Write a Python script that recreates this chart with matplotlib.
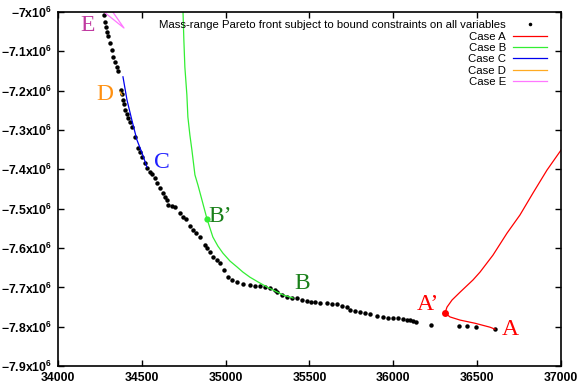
import numpy as np
import matplotlib
matplotlib.use("Agg")
import matplotlib.pyplot as plt
from matplotlib.ticker import FuncFormatter

plt.rcParams['font.family'] = ['Liberation Sans', 'DejaVu Sans']
plt.rcParams['mathtext.fontset'] = 'custom'
plt.rcParams['mathtext.rm'] = 'Liberation Sans'
plt.rcParams['mathtext.bf'] = 'Liberation Sans:bold'

# mass-range pareto front (x, y in units of 1e6)
pareto_x = [34274, 34280, 34286, 34292, 34298, 34310, 34322, 34328, 34340, 34352,
            34358, 34376, 34382, 34388, 34394, 34400, 34412, 34417, 34429, 34441,
            34459, 34477, 34489, 34501, 34519, 34531, 34549, 34561, 34579, 34590,
            34608, 34626, 34638, 34650, 34656, 34680, 34698, 34728, 34746, 34763,
            34787, 34805, 34823, 34847, 34877, 34889, 34907, 34924, 34948, 34966,
            34990, 35014, 35038, 35068, 35103, 35145, 35175, 35205, 35235, 35264,
            35294, 35306, 35336, 35366, 35396, 35425, 35455, 35485, 35509, 35533,
            35563, 35604, 35634, 35664, 35694, 35724, 35741, 35771, 35801, 35831,
            35861, 35903, 35938, 35968, 35998, 36028, 36058, 36081, 36099, 36117,
            36135, 36225, 36392, 36439, 36493, 36606]
pareto_y = [-7.008, -7.025, -7.038, -7.051, -7.061, -7.079, -7.097, -7.114, -7.127, -7.140,
            -7.150, -7.198, -7.208, -7.224, -7.234, -7.249, -7.259, -7.270, -7.280, -7.292,
            -7.318, -7.346, -7.356, -7.369, -7.384, -7.397, -7.407, -7.412, -7.422, -7.435,
            -7.447, -7.460, -7.470, -7.478, -7.491, -7.493, -7.496, -7.511, -7.521, -7.526,
            -7.544, -7.554, -7.562, -7.572, -7.592, -7.600, -7.610, -7.623, -7.630, -7.638,
            -7.656, -7.674, -7.681, -7.686, -7.691, -7.694, -7.697, -7.697, -7.699, -7.702,
            -7.707, -7.712, -7.719, -7.725, -7.727, -7.727, -7.732, -7.735, -7.737, -7.737,
            -7.740, -7.740, -7.742, -7.742, -7.747, -7.750, -7.758, -7.760, -7.763, -7.765,
            -7.768, -7.773, -7.775, -7.778, -7.778, -7.778, -7.780, -7.783, -7.783, -7.786,
            -7.788, -7.796, -7.798, -7.798, -7.801, -7.806]

case_a_x = [37000, 36916, 36833, 36755, 36678, 36594, 36517, 36475, 36398, 36350,
            36320, 36308, 36338, 36398, 36487, 36576, 36606]
case_a_y = [-7.351, -7.402, -7.460, -7.516, -7.562, -7.618, -7.661, -7.681, -7.712, -7.732,
            -7.750, -7.765, -7.775, -7.783, -7.791, -7.801, -7.806]

case_b_x = [34743, 34746, 34751, 34757, 34769, 34775, 34787, 34799, 34817, 34835,
            34859, 34889, 34924, 34954, 34984, 35026, 35068, 35103, 35145, 35193,
            35247, 35294, 35342, 35402]
case_b_y = [-6.980, -7.000, -7.071, -7.140, -7.211, -7.267, -7.313, -7.351, -7.414, -7.440,
            -7.478, -7.526, -7.572, -7.595, -7.613, -7.633, -7.648, -7.661, -7.674, -7.686,
            -7.699, -7.709, -7.719, -7.727]

case_c_x = [34388, 34412, 34441, 34471, 34501, 34531]
case_c_y = [-7.165, -7.224, -7.275, -7.325, -7.358, -7.394]

case_d_x = [34370, 34382]
case_d_y = [-7.203, -7.211]

case_e_x = [34322, 34394, 34280]
case_e_y = [-6.997, -7.041, -7.002]

a_prime = (36308, -7.765)
b_prime = (34889, -7.526)

fig = plt.figure(figsize=(5.79, 3.83), dpi=100)
ax = fig.add_axes([0.100, 0.044, 0.869, 0.925])

M = 1e6
ax.plot(pareto_x, np.array(pareto_y) * M, 'ko', ms=3.2, mew=0, ls='none',
        label='Mass-range Pareto front subject to bound constraints on all variables')
ax.plot(case_a_x, np.array(case_a_y) * M, color='#ff0000', lw=0.9, label='Case A')
ax.plot(case_b_x, np.array(case_b_y) * M, color='#33ee33', lw=0.9, label='Case B')
ax.plot(case_c_x, np.array(case_c_y) * M, color='#0000ee', lw=0.9, label='Case C')
ax.plot(case_d_x, np.array(case_d_y) * M, color='#ffaa22', lw=0.9, label='Case D')
ax.plot(case_e_x, np.array(case_e_y) * M, color='#ff77ff', lw=0.9, label='Case E')
ax.plot([a_prime[0]], [a_prime[1] * M], 'o', color='#ff0000', ms=5, mew=0)
ax.plot([b_prime[0]], [b_prime[1] * M], 'o', color='#33ee33', ms=4.5, mew=0)

serif = dict(family='Liberation Serif', fontsize=17, ha='center', va='center')
ax.text(34179, -7.035 * M, 'E', color='#c03aa0', **serif)
ax.text(34280, -7.211 * M, 'D', color='#ff9010', **serif)
ax.text(34620, -7.382 * M, 'C', color='#2020ff', **serif)
ax.text(34970, -7.519 * M, 'B’', color='#1a801a', **serif)
ax.text(35455, -7.691 * M, 'B', color='#1a801a', **serif)
ax.text(36205, -7.743 * M, 'A’', color='#ff0000', **serif)
ax.text(36696, -7.808 * M, 'A', color='#ff0000', **serif)

ax.set_xlim(34000, 37000)
ax.set_ylim(-7.9e6, -7.0e6)
ax.set_xticks(np.arange(34000, 37001, 500))
ax.set_yticks(np.arange(-7.9e6, -6.99e6, 0.1e6))


def yfmt(v, pos):
    s = ('%.1f' % (v / 1e6)).rstrip('0').rstrip('.')
    return r'$\mathbf{%s x10^{6}}$' % s.replace('-', '{-}')


ax.yaxis.set_major_formatter(FuncFormatter(yfmt))
ax.tick_params(direction='in', length=4, width=1, top=True, right=True,
               labelsize=8.8)
ax.tick_params(axis='x', pad=4)
ax.tick_params(axis='y', pad=4)
for lab in ax.get_xticklabels():
    lab.set_fontweight('bold')
for sp in ax.spines.values():
    sp.set_linewidth(1.2)

ax.legend(loc='upper right', bbox_to_anchor=(0.979, 0.986), markerfirst=False,
          frameon=False, fontsize=8.2, handlelength=3.0, handletextpad=0.6,
          labelspacing=0.12, borderaxespad=0.0, borderpad=0.3, markerscale=0.8)

fig.savefig('out.png', dpi=100)
